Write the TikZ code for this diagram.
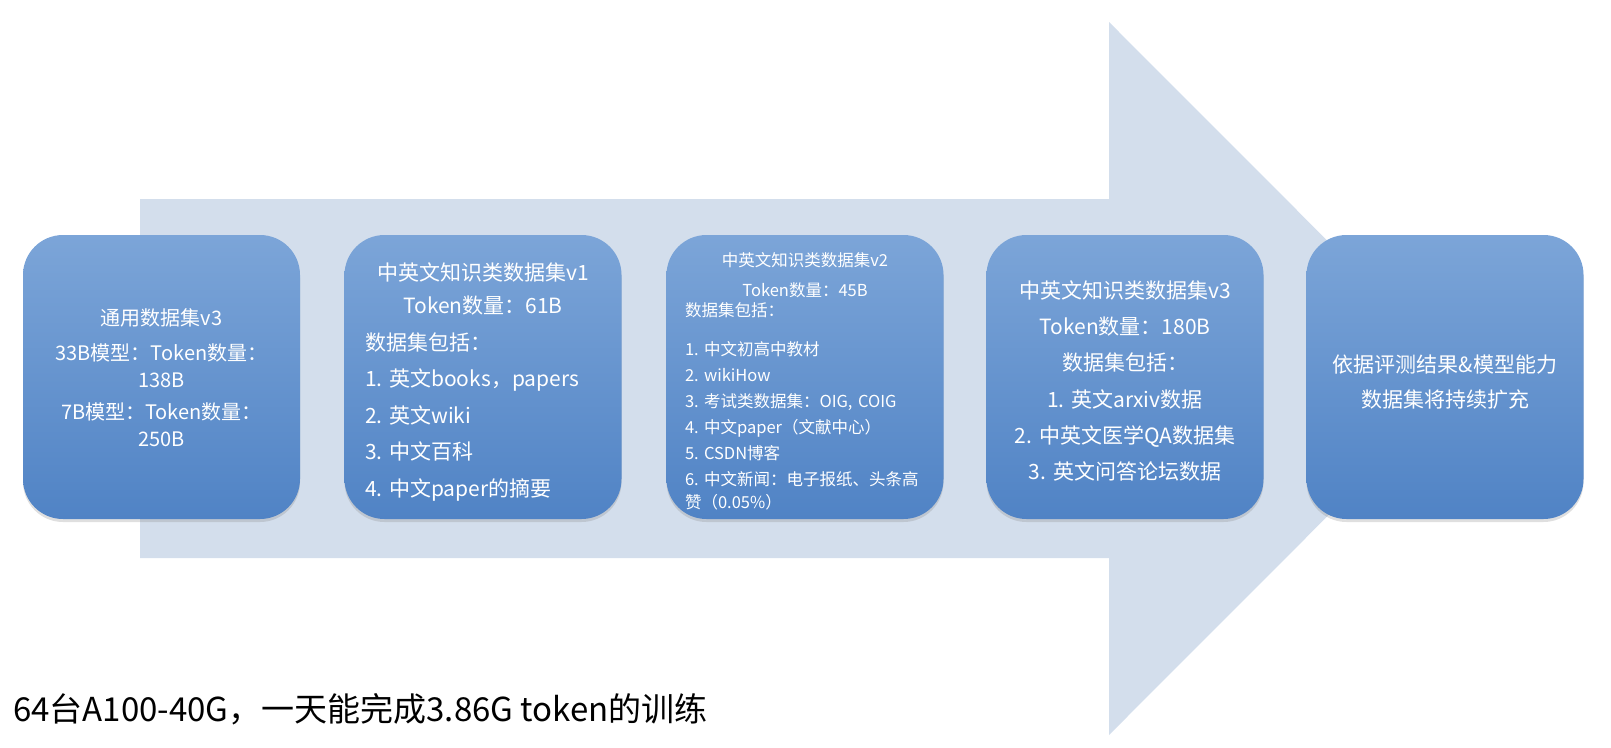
\documentclass[tikz,border=0pt]{standalone}
\usepackage{fontspec}
\setmainfont{Noto Sans CJK SC}
\usetikzlibrary{shadows}
\definecolor{arrowfill}{RGB}{211,222,236}
\definecolor{boxtop}{RGB}{124,165,216}
\definecolor{boxbot}{RGB}{80,131,197}
\newcommand\numsp{\hspace{0.32em}}
\begin{document}
\begin{tikzpicture}[x=1pt,y=-1pt,
  stagebox/.style={rounded corners=40pt, minimum width=277pt, minimum height=284pt,
    top color=boxtop, bottom color=boxbot, draw=none, inner sep=0pt,
    drop shadow={opacity=0.25, shadow xshift=0pt, shadow yshift=-3pt}},
  boxtext/.style={text=white, inner sep=0pt}
]
\useasboundingbox (0,0) rectangle (1611,747);
% big background arrow
\fill[arrowfill] (140,199) -- (1109,199) -- (1109,22) -- (1465,378.5) -- (1109,735) -- (1109,558) -- (140,558) -- cycle;

% stage boxes
\node[stagebox] (b1) at (161.5,377) {};
\node[stagebox] (b2) at (483,377) {};
\node[stagebox] (b3) at (805,377) {};
\node[stagebox] (b4) at (1125,377) {};
\node[stagebox] (b5) at (1445,377) {};

% texts
\node[boxtext, font=\fontsize{20}{27}\selectfont, align=center] (t1) at (161.5,378)
  {通用数据集v3\\[8pt]33B模型：Token数量：\\138B\\[5pt]7B模型：Token数量：\\250B};

\node[boxtext, font=\fontsize{21}{36.5}\selectfont, text width=236pt, align=left] (t2) at (483,382)
  {\makebox[\linewidth]{中英文知识类数据集v1}\\[-3pt]\makebox[\linewidth]{Token数量：61B}\\
   数据集包括：\\1.\numsp 英文books，papers\\2.\numsp 英文wiki\\3.\numsp 中文百科\\4.\numsp 中文paper的摘要};

\node[boxtext, font=\fontsize{16.5}{26}\selectfont, text width=240pt, align=left] (t3) at (805,381)
  {\makebox[\linewidth]{中英文知识类数据集v2}\\[4pt]\makebox[\linewidth]{Token数量：45B}\\[-6pt]
   数据集包括：\\[13pt]1.\numsp 中文初高中教材\\2.\numsp wikiHow\\3.\numsp 考试类数据集：OIG, COIG\\4.\numsp 中文paper（文献中心）\\
   5.\numsp CSDN博客\\6.\numsp 中文新闻：电子报纸、头条高\\[-3pt]赞（0.05\%）};

\node[boxtext, font=\fontsize{21}{36.2}\selectfont, align=center] (t4) at (1125,381)
  {中英文知识类数据集v3\\Token数量：180B\\数据集包括：\\1.\numsp 英文arxiv数据\\2.\numsp 中英文医学QA数据集\\3.\numsp 英文问答论坛数据};

\node[boxtext, font=\fontsize{21}{35}\selectfont, align=center] (t5) at (1445,382)
  {依据评测结果\&模型能力\\数据集将持续扩充};

% footnote
\node[anchor=west, inner sep=0pt, font=\fontsize{33}{40}\selectfont] (note) at (13,709)
  {64台A100-40G，一天能完成3.86G token的训练};
\end{tikzpicture}
\end{document}
